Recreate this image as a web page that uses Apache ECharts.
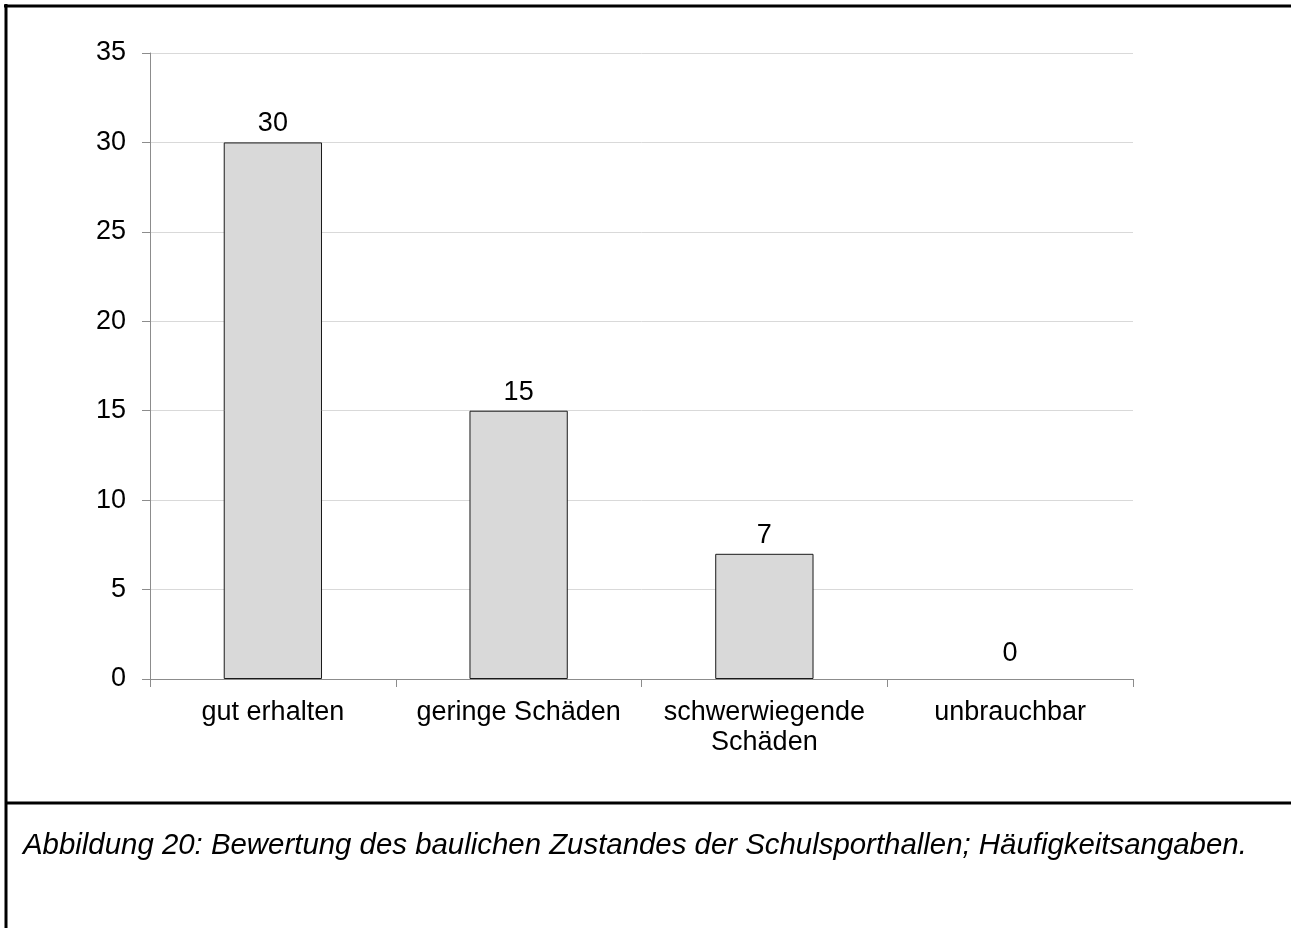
<!DOCTYPE html>
<html>
<head>
<meta charset="utf-8">
<script src="https://cdn.jsdelivr.net/npm/echarts@6/dist/echarts.min.js"></script>
<style>
  html, body { margin: 0; padding: 0; background: #fff; }
  #chart { width: 1291px; height: 928px; }
</style>
</head>
<body>
<div id="chart"></div>
<script>
// Zustand der Schulsporthallen (Häufigkeiten)
const categories = ['gut erhalten', 'geringe Schäden', 'schwerwiegende\nSchäden', 'unbrauchbar'];
const counts = [30, 15, 7, 0];
const yTicks = [0, 5, 10, 15, 20, 25, 30, 35];
const caption = 'Abbildung 20: Bewertung des baulichen Zustandes der Schulsporthallen; Häufigkeitsangaben.';

const font = 'Arial, "Liberation Sans", sans-serif';
const chart = echarts.init(document.getElementById('chart'), null, { renderer: 'canvas' });

// Balken mit Wert 0 ohne Umrandung, Beschriftung etwas höher
const barData = counts.map(v => v === 0
  ? { value: v, itemStyle: { borderWidth: 0 }, label: { distance: 12 } }
  : v);

chart.setOption({
  backgroundColor: '#ffffff',
  animation: false,
  grid: { left: 150, right: 158, top: 53, bottom: 249, containLabel: false },
  xAxis: {
    type: 'category',
    data: categories,
    boundaryGap: true,
    axisLine: { lineStyle: { color: '#8c8c8c', width: 1 } },
    axisTick: { show: true, alignWithLabel: false, length: 8, inside: false, lineStyle: { color: '#8c8c8c' } },
    axisLabel: { color: '#000', fontFamily: font, fontSize: 27, margin: 19, lineHeight: 30, interval: 0 }
  },
  yAxis: {
    type: 'value',
    min: yTicks[0],
    max: yTicks[yTicks.length - 1],
    interval: yTicks[1] - yTicks[0],
    axisLine: { show: true, lineStyle: { color: '#8c8c8c', width: 1 } },
    axisTick: { show: true, length: 8, lineStyle: { color: '#8c8c8c' } },
    axisLabel: { color: '#000', fontFamily: font, fontSize: 27, margin: 24 },
    splitLine: { show: true, lineStyle: { color: '#d9d9d9', width: 1 } }
  },
  series: [{
    type: 'bar',
    data: barData,
    barWidth: '40%',
    itemStyle: { color: '#d9d9d9', borderColor: '#1a1a1a', borderWidth: 1 },
    label: { show: true, position: 'top', distance: 5, color: '#000', fontFamily: font, fontSize: 27 }
  }],
  graphic: [
    // Rahmen oben und links
    { type: 'line', shape: { x1: 4, y1: 6, x2: 1291, y2: 6 }, style: { stroke: '#000', lineWidth: 3 }, silent: true },
    { type: 'line', shape: { x1: 6, y1: 4, x2: 6, y2: 928 }, style: { stroke: '#000', lineWidth: 3 }, silent: true },
    // Trennlinie zwischen Diagramm und Bildunterschrift
    { type: 'line', shape: { x1: 6, y1: 803, x2: 1291, y2: 803 }, style: { stroke: '#000', lineWidth: 3 }, silent: true },
    {
      type: 'text', silent: true,
      style: { x: 23, y: 846, text: caption, fill: '#000', verticalAlign: 'middle', font: 'italic 29.4px Arial, "Liberation Sans", sans-serif' }
    }
  ]
});
</script>
</body>
</html>
